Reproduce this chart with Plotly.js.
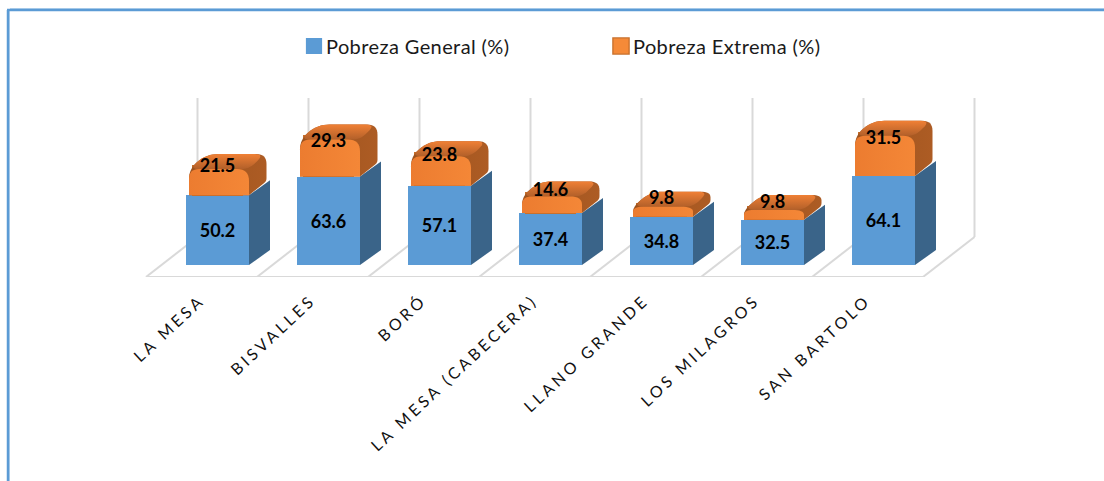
<!DOCTYPE html>
<html>
<head>
<meta charset="utf-8">
<script src="https://cdn.plot.ly/plotly-3.0.1.min.js"></script>
<style>
html,body{margin:0;padding:0;background:#fff;overflow:hidden}
.xtick text{letter-spacing:3.4px}
.legend .legendtext{letter-spacing:.4px;transform:translateX(-13px)}
.legend .legendpoints path{transform:translate(15px,0px) scale(1.35)}
</style>
</head>
<body>
<div id="chart" style="width:1104px;height:481px"></div>
<script>
const categories = ['LA MESA','BISVALLES','BORÓ','LA MESA (CABECERA)','LLANO GRANDE','LOS MILAGROS','SAN BARTOLO'];
const pobrezaGeneral = [50.2,63.6,57.1,37.4,34.8,32.5,64.1];
const pobrezaExtrema = [21.5,29.3,23.8,14.6,9.8,9.8,31.5];
const positions = categories.map((_,i)=>i);

const W=1104,H=481,BOTTOM=204;
const PXU=111, PYU=1.39;            // pixels per x / y unit
const X0=217.5, Y0=265;             // pixel location of data origin
const ux=p=>p/PXU, uy=p=>p/PYU;
const xRange=[-X0/PXU,(W-X0)/PXU];
const yRange=[(Y0-(H-BOTTOM))/PYU,Y0/PYU];

// Rounded polygon, offsets in pixels (y up), sampled to points
function rounded(pts){
  const out=[];const n=pts.length;
  pts.forEach((p,i)=>{
    const a=pts[(i-1+n)%n],b=pts[(i+1)%n],r=p[2]||0;
    if(!r){out.push([p[0],p[1]]);return;}
    const la=Math.hypot(a[0]-p[0],a[1]-p[1]),lb=Math.hypot(b[0]-p[0],b[1]-p[1]);
    const ra=Math.min(r,la/2),rb=Math.min(r,lb/2);
    const s=[p[0]+(a[0]-p[0])*ra/la,p[1]+(a[1]-p[1])*ra/la];
    const e=[p[0]+(b[0]-p[0])*rb/lb,p[1]+(b[1]-p[1])*rb/lb];
    for(let k=0;k<=8;k++){const t=k/8,u=1-t;
      out.push([u*u*s[0]+2*u*t*p[0]+t*t*e[0],u*u*s[1]+2*u*t*p[1]+t*t*e[1]]);}
  });
  return out;
}
function face(i,pts,colors,type,name){
  const poly=rounded(pts);poly.push(poly[0]);
  return {type:'scatter',mode:'none',x:poly.map(p=>i+ux(p[0])),y:poly.map(p=>uy(p[1])),
    fill:'toself',showlegend:false,hoverinfo:'skip',name:name,
    fillgradient:{type:type,colorscale:[[0,colors[0]],[1,colors[1]]]}};
}

const BW=63, DX=21, DY=15;          // bar width and depth offsets, px
const traces=[];

// value bars
traces.push({type:'bar',name:'Pobreza General (%)',x:positions,y:pobrezaGeneral,width:ux(BW),
  marker:{color:'#5b9bd5'},text:pobrezaGeneral.map(v=>v.toFixed(1)),textposition:'inside',insidetextanchor:'middle',
  constraintext:'none',textangle:0,textfont:{family:'Lato, sans-serif',size:18,color:'#000',weight:700},hoverinfo:'x+y'});
traces.push({type:'bar',name:'Pobreza Extrema (%)',x:positions,y:pobrezaExtrema,width:ux(50),
  marker:{color:'#f58a38',line:{color:'#c8702c',width:1}},hoverinfo:'x+y'});

// blue side faces
positions.forEach(i=>{
  const t=pobrezaGeneral[i]*PYU,r=BW/2;
  traces.push(face(i,[[r,0],[r+DX,DY],[r+DX,t+DY],[r,t]],['#3a6489','#3a6489'],'horizontal','lado'));
});
// orange rounded block: silhouette/side, top, front
positions.forEach(i=>{
  const b=pobrezaGeneral[i]*PYU,f=b+pobrezaExtrema[i]*PYU-3.7;
  const L=-28.5,R=31.5,dx=17.5,dy=15;
  traces.push(face(i,[[L,b],[L,f,10],[L+dx,f+dy,12],[R+dx,f+dy,10],[R+dx,b+dy-1,3],[R,b]],['#9c521d','#ad5c24'],'horizontal','lado'));
  traces.push(face(i,[[L,f,10],[L+dx,f+dy,12],[R+dx-2,f+dy,10],[R,f,8]],['#b2602a','#f08035'],'vertical','arriba'));
  traces.push(face(i,[[L,b],[L,f,10],[R,f,12],[R,b]],['#ec7c30','#f48737'],'horizontal','frente'));
});
// labels for the upper segment
traces.push({type:'scatter',mode:'text',x:positions,
  y:positions.map(i=>pobrezaGeneral[i]+pobrezaExtrema[i]*0.65+5.7),
  text:pobrezaExtrema.map(v=>v.toFixed(1)),textposition:'middle center',cliponaxis:false,
  textfont:{family:'Lato, sans-serif',size:18,color:'#000',weight:700},showlegend:false,hoverinfo:'skip'});

// walls & floor lines
const grid={color:'#d9d9d9',width:2};
const backDX=ux(51.5), floorFront=yRange[0], floorBack=uy(Y0-237), wallTop=floorBack+100;
const leftU=ux(146-X0);
const shapes=[];
for(let k=0;k<=categories.length;k++){
  const x=leftU+k;
  shapes.push({type:'line',layer:'below',xref:'x',yref:'y',x0:x,x1:x+backDX,y0:floorFront,y1:floorBack,line:grid});
  shapes.push({type:'line',layer:'below',xref:'x',yref:'y',x0:x+backDX,x1:x+backDX,y0:floorBack,y1:wallTop,line:grid});
}
shapes.push({type:'line',layer:'below',xref:'x',yref:'y',x0:leftU,x1:leftU+categories.length,y0:floorFront,y1:floorFront,line:grid});
// frame: only left and top edges are visible, in pixels
const py=p=>1-p/(H-BOTTOM);
const frame=(x0,y0,x1,y1,c,w)=>shapes.push({type:'line',layer:'above',xref:'paper',yref:'paper',
  x0:x0/W,x1:x1/W,y0:py(y0),y1:py(y1),line:{color:c,width:w}});
frame(9.5,10,9.5,H,'#bdd7ee',1);
frame(10,8.5,W,8.5,'#bdd7ee',1);
frame(8,10,8,H,'#5b9bd5',2.5);
frame(7,10,W,10,'#5b9bd5',2.5);

const layout={
  width:W,height:H,margin:{l:0,r:0,t:0,b:BOTTOM,pad:0},
  paper_bgcolor:'#fff',plot_bgcolor:'rgba(0,0,0,0)',
  barmode:'stack',showlegend:true,
  legend:{orientation:'h',x:299/W,xanchor:'left',y:1-46/(H-BOTTOM),yanchor:'middle',
    entrywidth:262,entrywidthmode:'pixels',traceorder:'normal',
    font:{family:'Lato, sans-serif',size:20,color:'#1a1a1a'},bgcolor:'rgba(0,0,0,0)'},
  xaxis:{type:'linear',range:xRange,tickmode:'array',tickvals:positions,ticktext:categories,
    tickangle:-43,ticks:'',showgrid:false,zeroline:false,showline:false,ticklabelstandoff:10,ticklabelshift:-17,
    tickfont:{family:'Lato, sans-serif',size:16,color:'#111'}},
  yaxis:{range:yRange,showgrid:false,zeroline:false,showticklabels:false,ticks:'',showline:false},
  shapes:shapes
};
Plotly.newPlot('chart',traces,layout,{displayModeBar:false,staticPlot:true});
</script>
</body>
</html>
